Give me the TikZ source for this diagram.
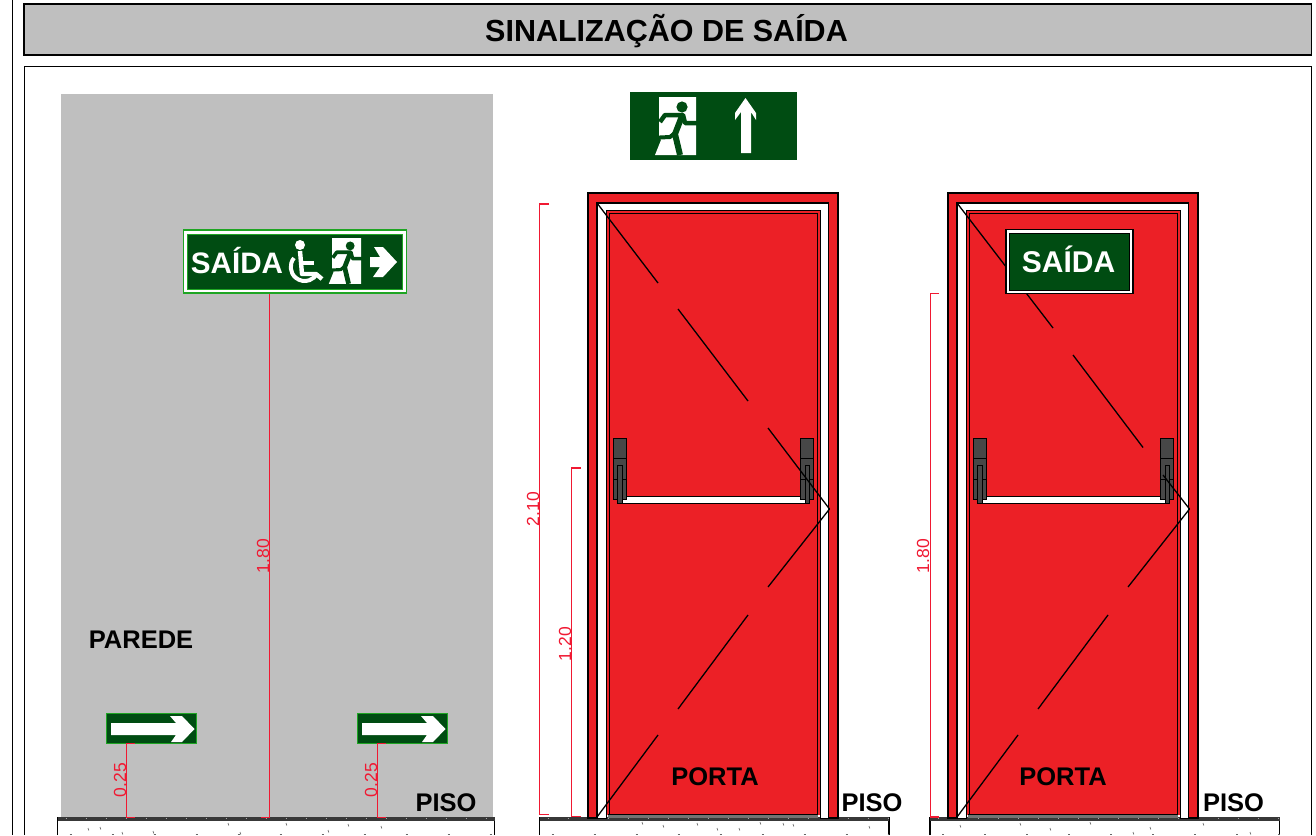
\documentclass[tikz,border=0pt]{standalone}
\usepackage{fontspec}
\setmainfont{Liberation Sans}
\definecolor{vermelho}{RGB}{236,32,38}
\definecolor{verde}{RGB}{0,76,18}
\definecolor{verdeclaro}{RGB}{30,165,35}
\definecolor{cinza}{RGB}{191,191,191}
\definecolor{cota}{RGB}{240,25,50}
\tikzset{
  rotulo/.style={font=\bfseries\fontsize{25.5}{25}\selectfont,inner sep=0pt},
  medida/.style={font=\fontsize{17.5}{17}\selectfont,text=cota,rotate=90,inner sep=0pt},
  linhacota/.style={cota,line width=1.4pt},
  diagonal/.style={black,line width=1.3pt},
  ferragem/.style={line width=0.9pt,fill=black!72},
  placa/.style={inner sep=0pt,line width=0.9pt}
}
% porta: #1 = deslocamento em x
\newcommand{\porta}[1]{
  \begin{scope}[xshift=#1pt]
  \draw[line width=1.6pt,fill=vermelho] (588,818) -- (588,193) -- (838,193) -- (838,818) -- (828,818) -- (828,203) -- (597,203) -- (597,818) -- cycle;
  \draw[line width=1pt,fill=white] (597,818) -- (597,203) -- (828,203) -- (828,818) -- (820,818) -- (820,210) -- (606,210) -- (606,818) -- cycle;
  \fill[vermelho] (606,210) rectangle (820,815);
  \draw[line width=1pt] (606,818) -- (606,210) -- (820,210) -- (820,818);
  \draw[line width=1pt] (609,815) -- (609,213) -- (817,213) -- (817,815);
  \fill[black!55] (608,814) rectangle (818,818);
  \draw[line width=0.8pt] (608,814) -- (818,814);
  % barra antipanico
  \draw[line width=0.9pt,fill=white] (620,496.5) rectangle (806,503);
  \draw[ferragem] (613,438.5) rectangle (626,499);
  \draw[ferragem] (800.5,438.5) rectangle (813,499);
  \draw[line width=0.7pt] (613,458) -- (626,458) (613,479) -- (626,479) (800.5,458) -- (813,458) (800.5,479) -- (813,479);
  \draw[ferragem] (617,465.5) rectangle (622.5,503.5);
  \draw[ferragem] (805,465.5) rectangle (809.5,503.5);
  % linhas de abertura
  \draw[diagonal] (829.5,509) -- (768,587);
  \draw[diagonal] (748,615) -- (678,709);
  \draw[diagonal] (658,735) -- (597,817);
  \end{scope}
}
% piso: #1 = esquerda, #2 = direita
\newcommand{\piso}[2]{
  \fill[white] (#1,818) rectangle (#2,834.5);
  \draw[line width=1.4pt] (#1,835) -- (#1,818) -- (#2,818) -- (#2,835);
  \fill[black!78] (#1,817) rectangle (#2,820.5);
  \draw[black!35,line width=0.5pt,dash pattern=on 1pt off 19pt] (#1+8,818.5) -- (#2,818.5);
  \draw[black!60,line width=0.8pt,dash pattern=on 2pt off 40pt] (#1+12,834.5) -- (#2,834.5);
}
% corredor: #1 = x, #2 = y (canto superior esquerdo da porta), #3 = escala
\newcommand{\corredor}[3]{
  \begin{scope}[shift={(#1,#2)},scale=#3]
  \fill[white] (0,0) -- (37,0) -- (37,58) -- (-4,58) -- (2,43) -- (0,40) -- cycle;
  \fill[verde] (23,10) circle (5.6);
  \draw[verde,line width=#3*4.5pt,line join=round] (1,25) -- (6,18) -- (24,18) -- (26,26) -- (38,26);
  \draw[verde,line width=#3*4pt,line join=round] (-9,41) -- (11,40) -- (16,36);
  \draw[verde,line width=#3*6pt,line join=round] (23,19) -- (16,37) -- (21,58);
  \end{scope}
}
\begin{document}
\begin{tikzpicture}[x=1pt,y=-1pt]
\useasboundingbox (0,0) rectangle (1316,835);
% Moldura
\draw[line width=0.9pt] (12.7,0) -- (12.7,835);
\draw[line width=1.5pt,fill=cinza] (24,4) rectangle (1311.5,55);
\draw[line width=1pt] (24,835) -- (24,66) -- (1311,66) -- (1311,835);
\node[font=\bfseries\fontsize{30.5}{30}\selectfont,inner sep=0pt] (titulo) at (666.5,31) {SINALIZAÇÃO DE SAÍDA};

% Parede
\fill[cinza] (61,94) rectangle (493,818);
\piso{57.5}{494.5}
\node[rotulo] (parede) at (141,640) {PAREDE};
\node[rotulo] (pisoa) at (446,803) {PISO};

% Placa de saida na parede
\node[placa,draw=verdeclaro,line width=1.5pt,fill=white,minimum width=223pt,minimum height=63pt] (placaa) at (295,261.5) {};
\node[placa,draw=verdeclaro,fill=verde,minimum width=215pt,minimum height=55pt] (placaint) at (295,261.5) {};
\node[font=\bfseries\fontsize{29.6}{29}\selectfont,text=white,inner sep=0pt] (saidaa) at (237,260.5) {SAÍDA};
% cadeirante
\fill[white] (300,245) circle (5);
\draw[white,line width=4.4pt,line join=round] (300,251) -- (302,274) -- (316,274) -- (322,279);
\draw[white,line width=3.4pt] (301,263) -- (314,263);
\draw[white,line width=4pt] (294,258) arc[start angle=220,end angle=28,radius=14];
\corredor{332}{238}{0.79}
\fill[white] (370,257) -- (380,257) -- (374,247) -- (383,247) -- (397,262) -- (383,277) -- (373,277) -- (380,267) -- (370,267) -- cycle;

% Setas baixas
\node[placa,draw=verdeclaro,fill=verde,line width=1.2pt,minimum width=90pt,minimum height=30pt] (setaa) at (151.7,728.5) {};
\node[placa,draw=verdeclaro,fill=verde,line width=1.2pt,minimum width=90pt,minimum height=30pt] (setab) at (402.7,728.5) {};
\fill[white] (111,723) -- (176,723) -- (170,716) -- (182,716) -- (194.5,729) -- (182,742) -- (171,742) -- (176,735) -- (111,735) -- cycle;
\fill[white] (362,723) -- (427,723) -- (421,716) -- (433,716) -- (445.5,729) -- (433,742) -- (422,742) -- (427,735) -- (362,735) -- cycle;

% Cotas da parede
\fill[cota] (268.8,294) rectangle (270.2,818);
\draw[linhacota] (269.5,817.5) -- (261,817.5);
\draw[linhacota] (135,743.5) -- (126.5,743.5) -- (126.5,817.5) -- (135,817.5);
\draw[linhacota] (386,743.5) -- (377.5,743.5) -- (377.5,817.5) -- (386,817.5);
\node[medida] (cotaa) at (263,556) {1.80};
\node[medida] (cotab) at (120,780) {0.25};
\node[medida] (cotac) at (371,780) {0.25};

% Placa superior
\fill[verde] (630,92) rectangle (797,160);
\corredor{659}{97}{1.0}
\fill[white] (745.5,98) -- (756,113) -- (756,120) -- (751,112) -- (751,153) -- (741,153) -- (741,112) -- (735,120) -- (735,113) -- cycle;

% Portas
\piso{539.5}{889}
\piso{930}{1279.5}
\porta{0}
\porta{360}
\draw[diagonal] (597,203) -- (658,283);
\draw[diagonal] (678,309) -- (748,401);
\draw[diagonal] (768,428) -- (829.5,509);
\draw[diagonal] (957,203) -- (1053,328);
\draw[diagonal] (1073,355) -- (1143,447.5);
\draw[diagonal] (1163,475) -- (1189.5,509);
\node[rotulo] (portaa) at (715,777) {PORTA};
\node[rotulo] (portab) at (1063,777) {PORTA};
\node[rotulo] (pisob) at (872,803) {PISO};
\node[rotulo] (pisoc) at (1233.5,803) {PISO};

% Placa na porta
\node[placa,draw=black,line width=1.5pt,fill=white,minimum width=127pt,minimum height=64pt] (placab) at (1069.5,261.5) {};
\node[placa,draw=black,fill=verde,minimum width=120pt,minimum height=57pt] (placabint) at (1069.5,261.5) {};
\node[font=\bfseries\fontsize{30}{29}\selectfont,text=white,inner sep=0pt] (saidab) at (1068.5,259) {SAÍDA};

% Cotas das portas
\draw[linhacota] (549,204) -- (539.5,204) -- (539.5,814.5) -- (549,814.5);
\draw[linhacota] (581,468) -- (571.5,468) -- (571.5,816.5) -- (581,816.5);
\draw[linhacota] (939,293.5) -- (930.5,293.5) -- (930.5,817) -- (939,817);
\node[medida] (cotad) at (533,509) {2.10};
\node[medida] (cotae) at (565,644) {1.20};
\node[medida] (cotaf) at (923,556) {1.80};

% Riscos do piso
\foreach \px/\py in {88/828,100/827,122/832,153/831,228/823,240/832,286/823,328/830,348/824,381/826,642/822,663/825,697/823,717/828,739/828,760/822,783/823,793/824,869/826,960/825,1020/823,1050/828,1090/822,1133/832,1150/827,1203/823,1250/832}
  \draw[black!55,line width=0.7pt] (\px,\py) -- ++(0.8,2.5);
\end{tikzpicture}
\end{document}
